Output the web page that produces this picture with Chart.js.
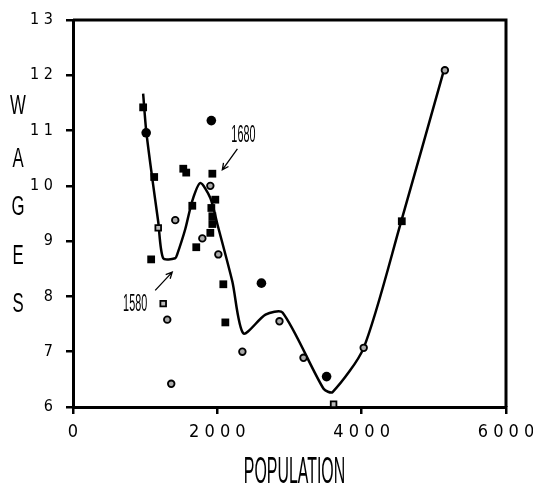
<!DOCTYPE html>
<html>
<head>
<meta charset="utf-8">
<script src="https://cdn.jsdelivr.net/npm/chart.js@4"></script>
<style>
  html, body { margin: 0; padding: 0; background: #fff; }
  #wrap { width: 533px; height: 493px; }
</style>
</head>
<body>
<div id="wrap"><canvas id="chart" width="533" height="493"></canvas></div>
<script>
// Smoothed wage curve
const curvePop = [972, 1014, 1097, 1181, 1250, 1417, 1444, 1556, 1653, 1764, 1903, 2000, 2208, 2361, 2667, 2903, 3472, 3597, 4028, 4542, 5139];
const curveWage = [11.67, 11.0, 10.15, 9.35, 8.69, 8.69, 8.76, 9.22, 9.73, 10.05, 9.78, 9.31, 8.27, 7.33, 7.67, 7.71, 6.33, 6.27, 7.07, 9.33, 12.09];

// Observations, by marker kind
const solidSquarePop = [972, 1125, 1083, 1528, 1569, 1931, 1972, 1917, 1931, 1931, 1903, 1708, 1653, 2083, 2111, 4556];
const solidSquareWage = [11.42, 10.16, 8.67, 10.31, 10.24, 10.22, 9.75, 9.6, 9.45, 9.31, 9.15, 8.89, 9.64, 8.22, 7.53, 9.36];

const solidCirclePop = [1014, 1917, 2611, 3514];
const solidCircleWage = [10.96, 11.18, 8.24, 6.55];

const openCirclePop = [1417, 1306, 1361, 1792, 2014, 2347, 2861, 3194, 4028, 5153, 1903];
const openCircleWage = [9.38, 7.58, 6.42, 9.05, 8.76, 7.0, 7.55, 6.89, 7.07, 12.09, 10.0];

const openSquarePop = [1181, 1250, 3611];
const openSquareWage = [9.24, 7.87, 6.05];

const xTicks = [0, 2000, 4000, 6000];
const yTicks = [6, 7, 8, 9, 10, 11, 12, 13];

// Year callouts: label position, arrow tail, arrow tip
const callouts = [
  { text: '1680', at: [2361, 10.91], from: [2278, 10.67], to: [2069, 10.29] },
  { text: '1580', at: [861, 7.85], from: [1139, 8.11], to: [1375, 8.44] }
];

const pts = (xs, ys) => xs.map((x, i) => ({ x: x, y: ys[i] }));
const spaced = (v) => String(v).split('').join(' ');

const narrow = "'Liberation Sans Narrow', 'DejaVu Sans Condensed', sans-serif";

// condensed text: draw with a horizontal squeeze
function squeezed(ctx, text, x, y, size, sx) {
  ctx.save();
  ctx.translate(x, y);
  ctx.scale(sx, 1);
  ctx.font = size + "px 'Liberation Sans', Arial, sans-serif";
  ctx.textAlign = 'center';
  ctx.textBaseline = 'middle';
  ctx.fillStyle = '#000';
  ctx.fillText(text, 0, 0);
  ctx.restore();
}

const framePlugin = {
  id: 'frame',
  afterDraw(chart) {
    const { ctx, chartArea: a, scales } = chart;
    ctx.save();
    // top and right sides of the box
    ctx.strokeStyle = '#000';
    ctx.lineWidth = 3;
    ctx.beginPath();
    ctx.moveTo(a.left, a.top);
    ctx.lineTo(a.right, a.top);
    ctx.lineTo(a.right, a.bottom);
    ctx.stroke();

    // axis titles
    squeezed(ctx, 'POPULATION', (a.left + a.right) / 2 + 5, 473, 37, 0.43);
    const letters = ['W', 'A', 'G', 'E', 'S'];
    const ys = [107, 160, 208, 257, 305];
    letters.forEach((l, i) => squeezed(ctx, l, 18, ys[i], 27, 0.62));

    // year callouts with arrows
    const xs = scales.x, yv = scales.y;
    callouts.forEach((c) => {
      squeezed(ctx, c.text, xs.getPixelForValue(c.at[0]), yv.getPixelForValue(c.at[1]), 24, 0.45);
      const x1 = xs.getPixelForValue(c.from[0]), y1 = yv.getPixelForValue(c.from[1]);
      const x2 = xs.getPixelForValue(c.to[0]), y2 = yv.getPixelForValue(c.to[1]);
      ctx.lineWidth = 1.3;
      ctx.beginPath();
      ctx.moveTo(x1, y1);
      ctx.lineTo(x2, y2);
      const ang = Math.atan2(y2 - y1, x2 - x1);
      const h = 7;
      ctx.moveTo(x2 - h * Math.cos(ang - 0.45), y2 - h * Math.sin(ang - 0.45));
      ctx.lineTo(x2, y2);
      ctx.lineTo(x2 - h * Math.cos(ang + 0.45), y2 - h * Math.sin(ang + 0.45));
      ctx.stroke();
    });
    ctx.restore();
  }
};

new Chart(document.getElementById('chart'), {
  type: 'scatter',
  data: {
    datasets: [
      {
        type: 'line',
        data: pts(curvePop, curveWage),
        borderColor: '#000',
        borderWidth: 2.5,
        pointRadius: 0,
        tension: 0.25,
        fill: false,
        order: 5
      },
      {
        data: pts(solidSquarePop, solidSquareWage),
        pointStyle: 'rect',
        pointRadius: 5.5,
        backgroundColor: '#000',
        borderColor: '#000',
        borderWidth: 0
      },
      {
        data: pts(solidCirclePop, solidCircleWage),
        pointStyle: 'circle',
        pointRadius: 4.8,
        backgroundColor: '#000',
        borderColor: '#000',
        borderWidth: 0
      },
      {
        data: pts(openCirclePop, openCircleWage),
        pointStyle: 'circle',
        pointRadius: 3.3,
        backgroundColor: '#aaa',
        borderColor: '#000',
        borderWidth: 1.8
      },
      {
        data: pts(openSquarePop, openSquareWage),
        pointStyle: 'rect',
        pointRadius: 4,
        backgroundColor: '#bbb',
        borderColor: '#000',
        borderWidth: 1.8
      }
    ]
  },
  options: {
    responsive: false,
    animation: false,
    layout: { padding: { top: 20, right: 27, left: 0, bottom: 0 } },
    plugins: { legend: { display: false }, tooltip: { enabled: false } },
    scales: {
      x: {
        type: 'linear',
        min: 0,
        max: 6000,
        afterFit: (s) => { s.height = 86; s.paddingLeft = 0; s.paddingRight = 0; },
        afterBuildTicks: (s) => { s.ticks = xTicks.map((v) => ({ value: v })); },
        border: { display: true, color: '#000', width: 3 },
        grid: { drawOnChartArea: false, drawTicks: true, tickLength: 7, lineWidth: 2.5, color: '#000' },
        ticks: {
          callback: (v) => spaced(v),
          color: '#000',
          padding: 8,
          maxRotation: 0,
          font: { family: narrow, size: 18 }
        }
      },
      y: {
        type: 'linear',
        min: 6,
        max: 13,
        afterFit: (s) => { s.width = 73; s.paddingTop = 0; s.paddingBottom = 0; },
        afterBuildTicks: (s) => { s.ticks = yTicks.map((v) => ({ value: v })); },
        border: { display: true, color: '#000', width: 3 },
        grid: { drawOnChartArea: false, drawTicks: true, tickLength: 7, lineWidth: 2.5, color: '#000' },
        ticks: {
          callback: (v) => spaced(v),
          color: '#000',
          padding: 13,
          font: { family: narrow, size: 16 }
        }
      }
    }
  },
  plugins: [framePlugin]
});
</script>
</body>
</html>
